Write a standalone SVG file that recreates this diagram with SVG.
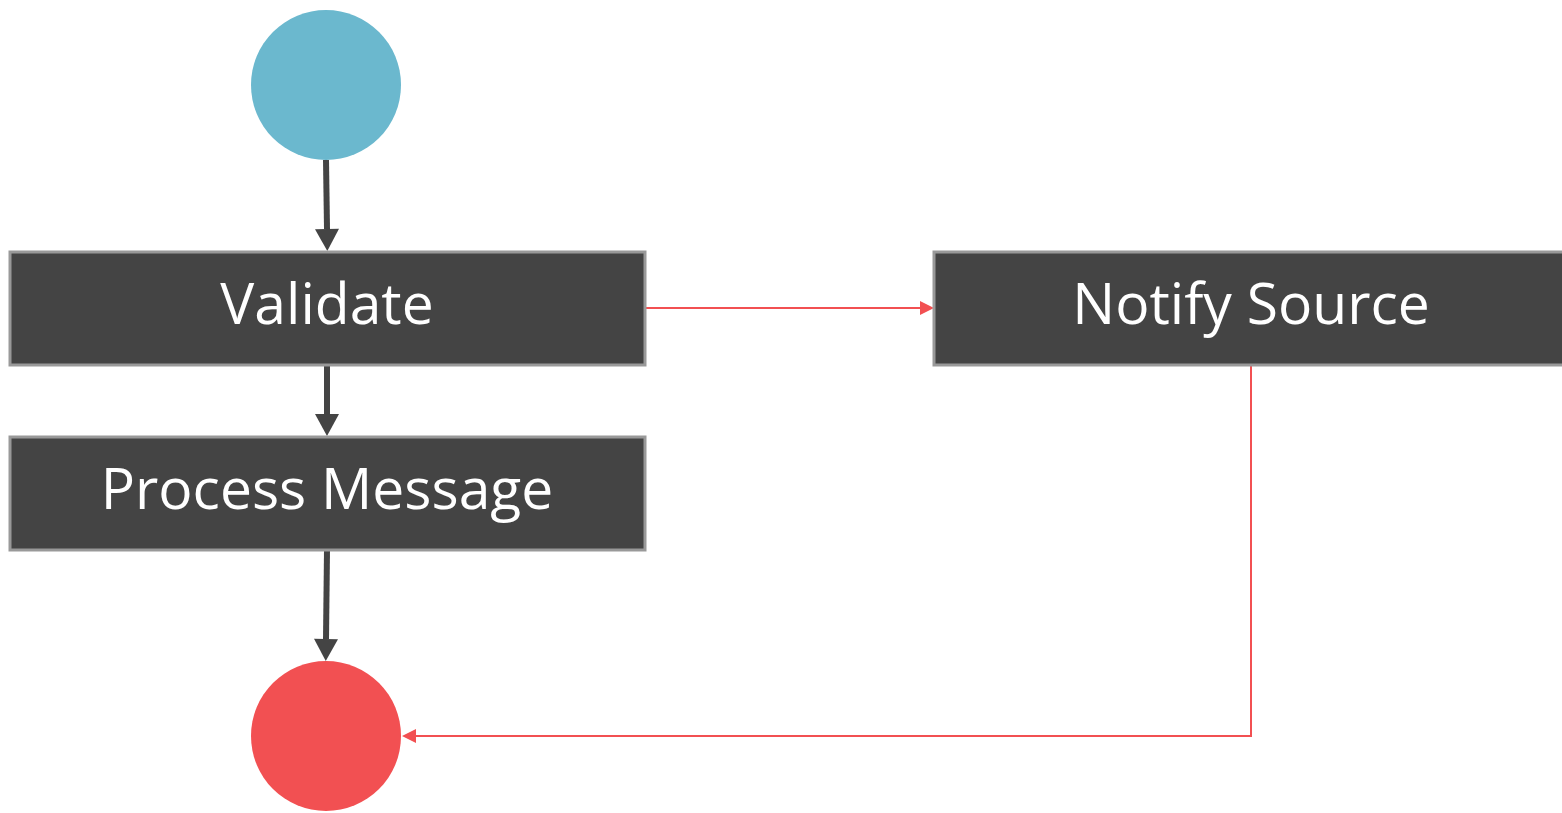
<svg xmlns="http://www.w3.org/2000/svg" width="1562" height="813" viewBox="0 0 1562 813">
<style>
.box{fill:#444444;stroke:#999999;stroke-width:3}
.lbl{fill:#ffffff;font-family:"Open Sans","Noto Sans",sans-serif;font-size:57px;text-anchor:middle}
.dk{stroke:#444444;stroke-width:6;fill:none}
.rd{stroke:#F25052;stroke-width:2;fill:none}
</style>
<defs>
<marker id="ad" markerUnits="userSpaceOnUse" markerWidth="24" markerHeight="24" refX="0" refY="12" orient="auto" overflow="visible"><path d="M0,0 L22,12 L0,24 Z" fill="#444444"/></marker>
<marker id="ar" markerUnits="userSpaceOnUse" markerWidth="16" markerHeight="16" refX="0" refY="7" orient="auto" overflow="visible"><path d="M0,0 L14,7 L0,14 Z" fill="#F25052"/></marker>
</defs>
<g id="connectors">
<path class="dk" d="M326,160 L327,229" marker-end="url(#ad)"/>
<path class="dk" d="M327,365 L327,414" marker-end="url(#ad)"/>
<path class="dk" d="M327,550 L326,639" marker-end="url(#ad)"/>
<path class="rd" d="M645,308 L920,308" marker-end="url(#ar)"/>
<path class="rd" d="M1251,365 L1251,736 L416,736" marker-end="url(#ar)"/>
</g>
<g id="start"><circle cx="326" cy="85" r="75" fill="#6BB8CE"/></g>
<g id="end"><circle cx="326" cy="736" r="75" fill="#F25052"/></g>
<g id="validate"><rect class="box" x="10" y="252" width="635" height="113"/><text class="lbl" x="327" y="324">Validate</text></g>
<g id="process"><rect class="box" x="10" y="437" width="635" height="113"/><text class="lbl" x="327" y="509">Process Message</text></g>
<g id="notify"><rect class="box" x="934" y="252" width="635" height="113"/><text class="lbl" x="1251" y="324">Notify Source</text></g>
</svg>
